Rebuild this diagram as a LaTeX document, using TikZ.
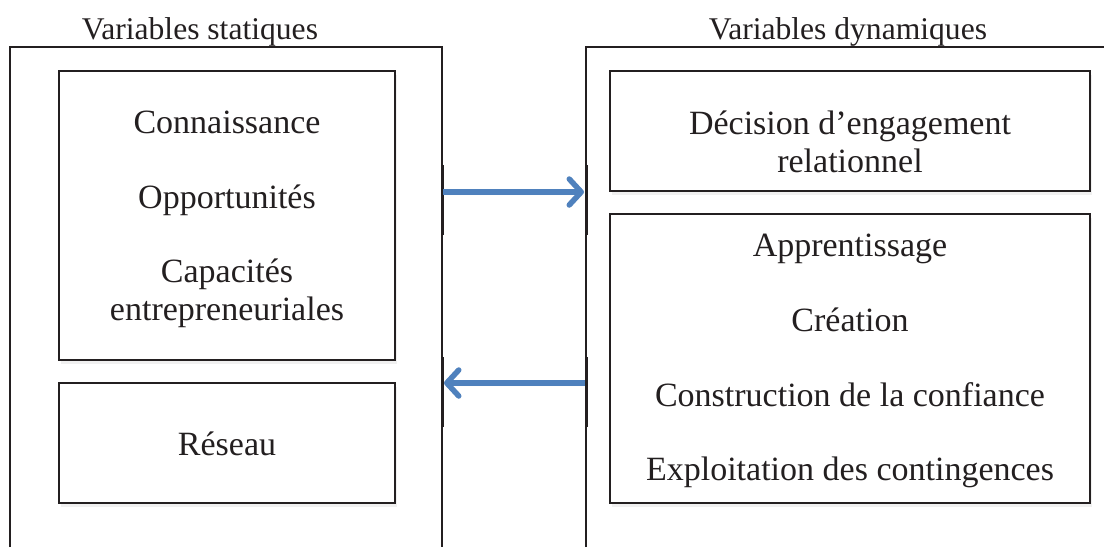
\documentclass[tikz,border=0pt]{standalone}
\usepackage{fontspec}
\setmainfont{Liberation Serif}
\usetikzlibrary{arrows.meta,positioning,shadows}
\definecolor{flowblue}{RGB}{79,129,189}
\definecolor{inkgray}{RGB}{35,31,32}

\begin{document}
\begin{tikzpicture}[x=1pt,y=-1pt,
    title/.style={font=\fontsize{31.6}{36}\selectfont, text=inkgray, inner sep=0pt, anchor=base},
    item/.style={font=\fontsize{34}{38}\selectfont, text=inkgray, inner sep=0pt, anchor=base},
    innerbox/.style={draw=inkgray, line width=2pt, fill=white,
        drop shadow={shadow xshift=2pt, shadow yshift=-4pt, opacity=0.12}},
    flow/.style={draw=flowblue, line width=5.5pt,
        -{Straight Barb[length=12pt,width=26pt,round]},
        drop shadow={shadow xshift=2pt, shadow yshift=-3pt, opacity=0.15}}]
    \useasboundingbox (0,0) rectangle (1104,547);

    % outer frames
    \draw[draw=inkgray, line width=1.3pt] (10,547) |- (442,47) -- (442,547);
    \draw[draw=inkgray, line width=1.3pt] (586,547) |- (1104,47);
    \draw[draw=inkgray, line width=2.8pt] (58,47) -- (395,47);
    \draw[draw=inkgray, line width=2.8pt] (680,47) -- (1009,47);
    \foreach \x in {442,586} {
        \draw[draw=inkgray, line width=3pt] (\x,165) -- (\x,235);
        \draw[draw=inkgray, line width=3pt] (\x,357) -- (\x,427);
    }

    \node[title] (stat) at (200,39) {Variables statiques};
    \node[title] (dyn) at (848,39) {Variables dynamiques};

    % static side
    \node[innerbox, minimum width=336pt, minimum height=289pt] (know) at (227,215.5) {};
    \node[innerbox, minimum width=336pt, minimum height=120pt] (net) at (227,443) {};
    \node[item] (conn) at (227,133) {Connaissance};
    \node[item] (opp) at (227,208) {Opportunités};
    \node[item] (capa) at (227,282) {Capacités};
    \node[item] (entr) at (227,320) {entrepreneuriales};
    \node[item] (res) at (227,455) {Réseau};

    % dynamic side
    \node[innerbox, minimum width=480pt, minimum height=120pt] (deci) at (850,131) {};
    \node[innerbox, minimum width=480pt, minimum height=289pt] (proc) at (850,358.5) {};
    \node[item] (eng) at (850,134) {Décision d’engagement};
    \node[item] (rel) at (850,172) {relationnel};
    \node[item] (appr) at (850,256) {Apprentissage};
    \node[item] (crea) at (850,331) {Création};
    \node[item] (conf) at (850,406) {Construction de la confiance};
    \node[item] (expl) at (850,480) {Exploitation des contingences};

    % exchanges
    \coordinate (statR) at (443,192);
    \coordinate (dynL) at (584,192);
    \coordinate (dynL2) at (585,383);
    \coordinate (statR2) at (444,383);
    \draw[flow] (statR) -- (dynL);
    \draw[flow] (dynL2) -- (statR2);
\end{tikzpicture}
\end{document}
